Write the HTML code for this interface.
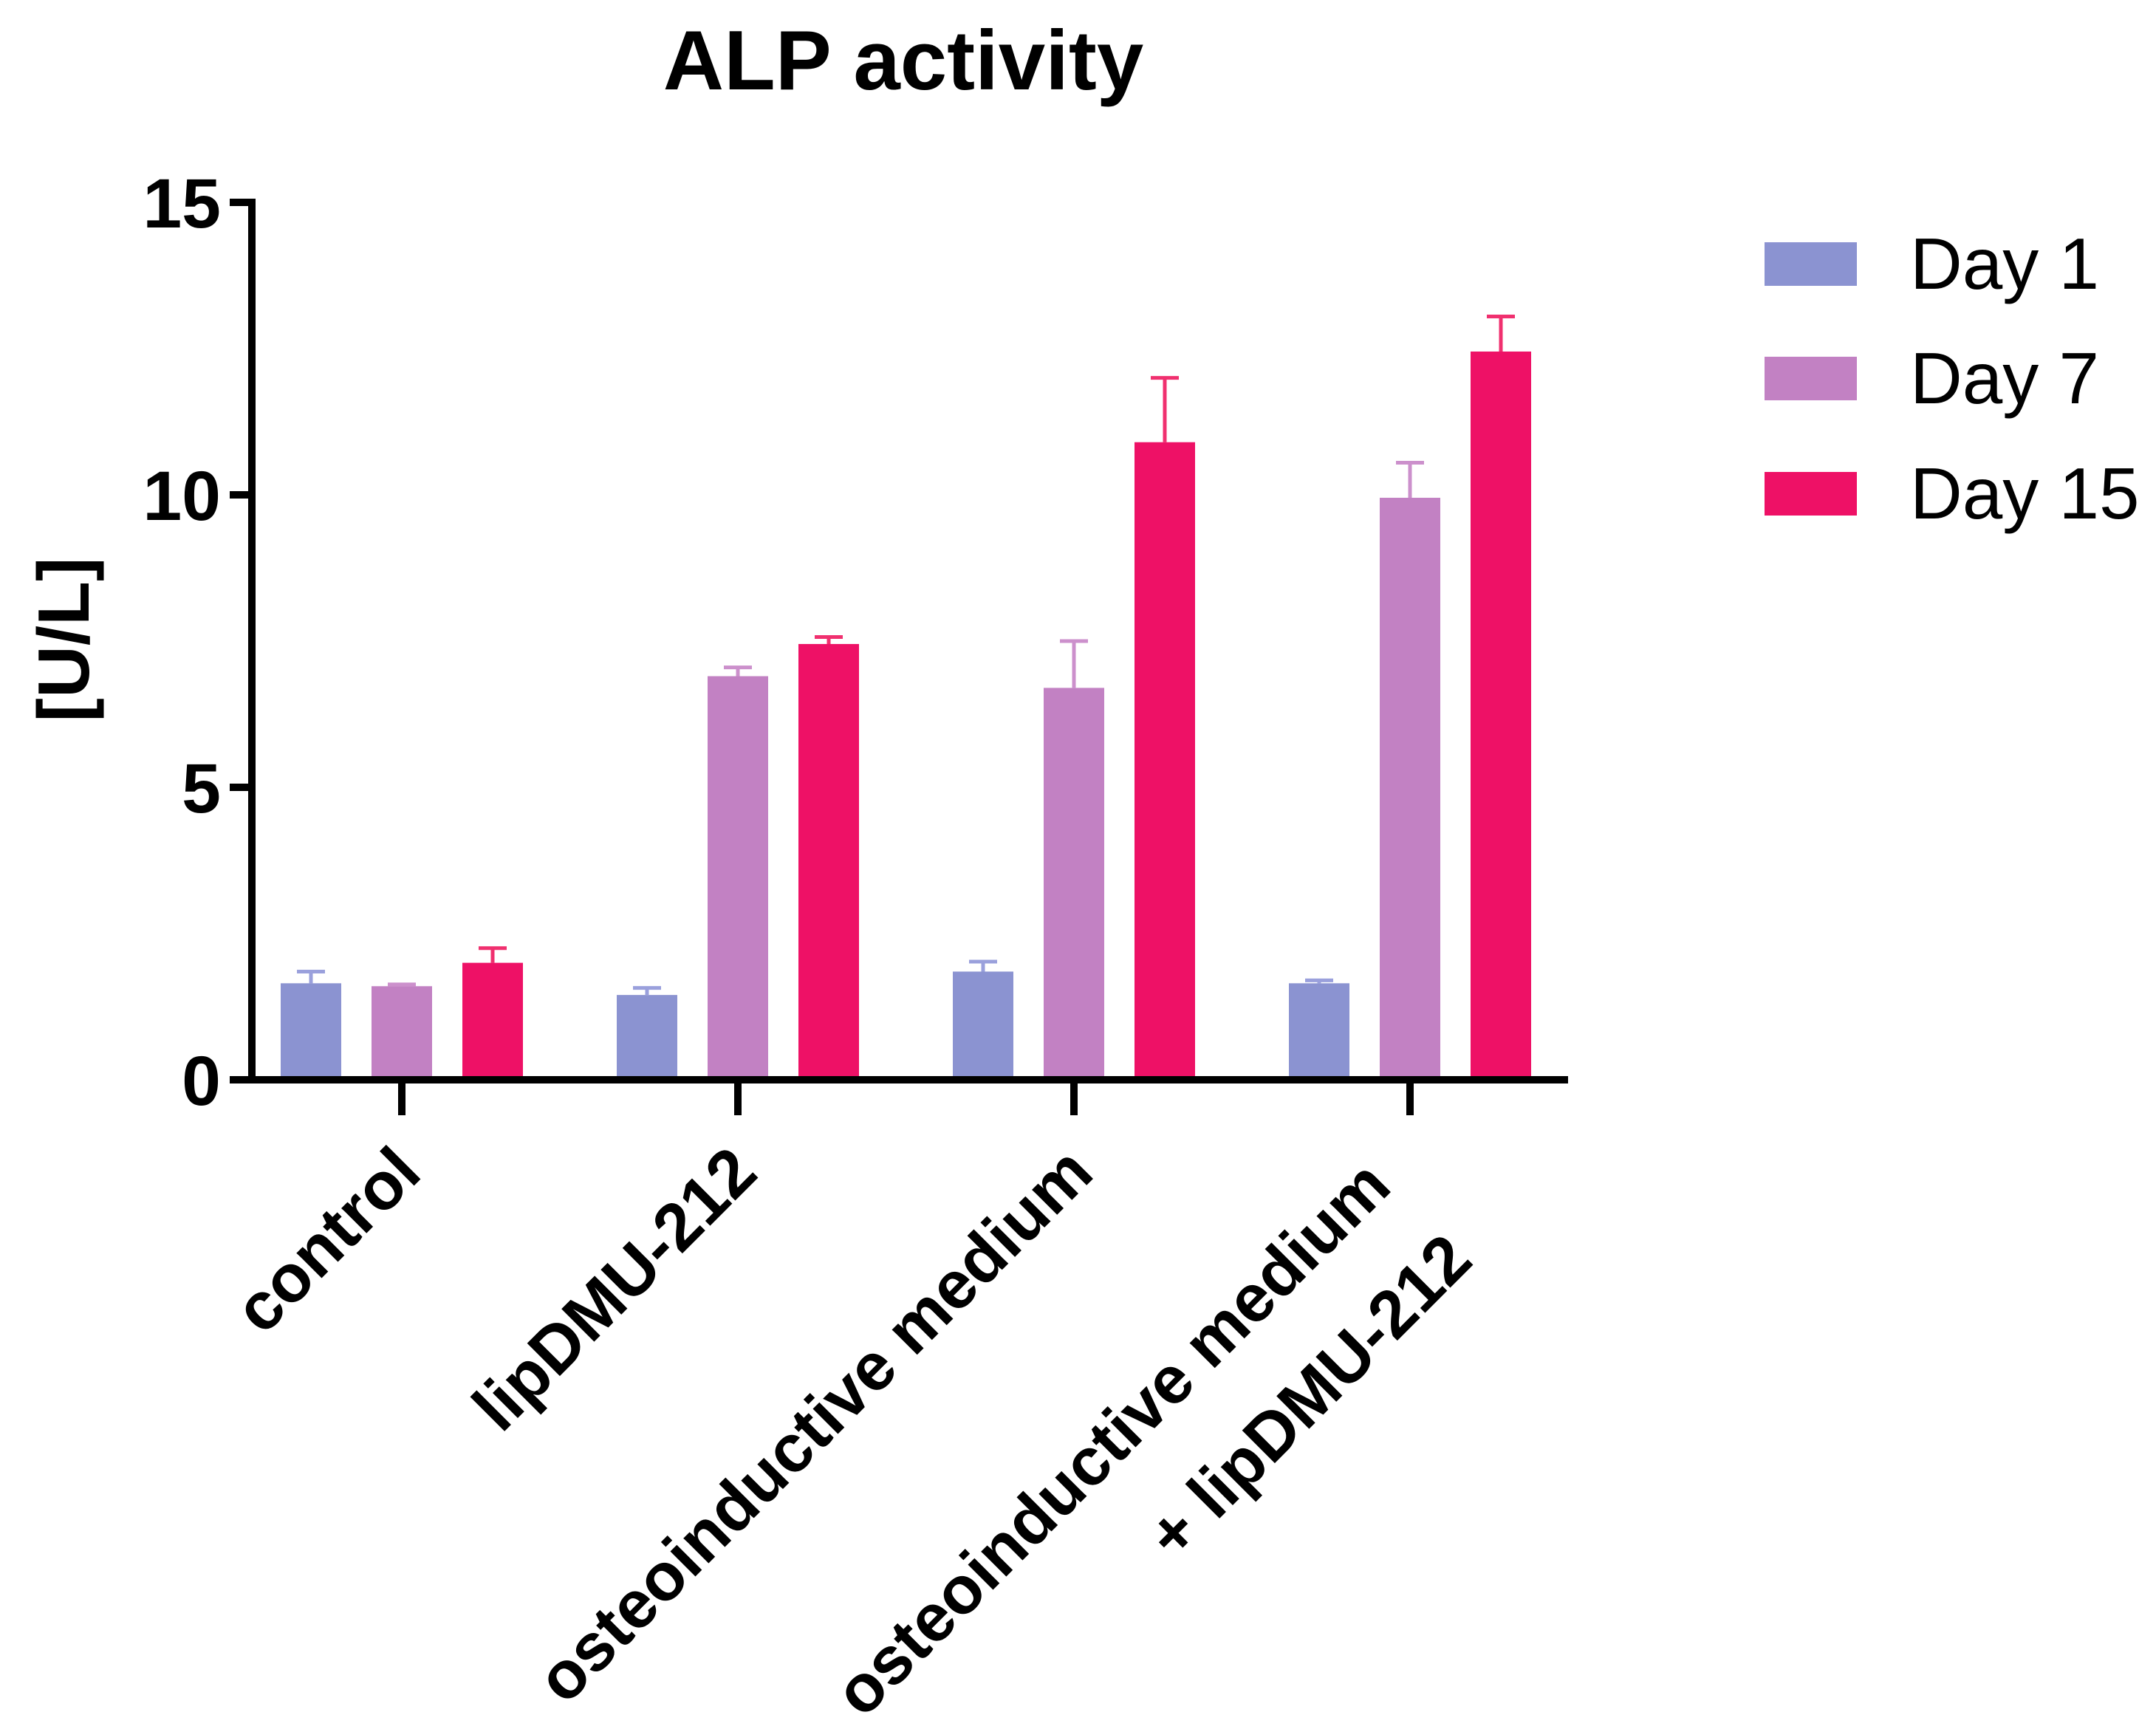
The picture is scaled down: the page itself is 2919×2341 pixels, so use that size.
<!DOCTYPE html>
<html><head><meta charset="utf-8"><style>html,body{margin:0;padding:0;background:#fff}svg{display:block}</style></head>
<body>
<svg id="chart" width="2919" height="2341" viewBox="0 0 2919 2341" xmlns="http://www.w3.org/2000/svg" font-family="Liberation Sans, Arial, sans-serif">
<text x="1223" y="121" font-size="114" font-weight="bold" text-anchor="middle">ALP activity</text>
<text x="0" y="0" font-size="98" font-weight="bold" text-anchor="middle" transform="translate(120,866) rotate(-90)">[U/L]</text>
<g id="bars"></g>
<g id="axes"></g>
<g id="legend"></g>
</svg>
<script>
const categories = ["control","lipDMU-212","osteoinductive medium","osteoinductive medium|+ lipDMU-212"];
const seriesNames = ["Day 1","Day 7","Day 15"];
const day1 = [1.65,1.45,1.85,1.65];
const day7 = [1.6,6.9,6.7,9.95];
const day15 = [2.0,7.45,10.9,12.45];
const err1 = [0.2,0.12,0.17,0.05];
const err7 = [0.03,0.15,0.8,0.6];
const err15 = [0.25,0.12,1.1,0.6];
const yTicks = [0,5,10,15];
const colors = ["#8b93d1","#c281c3","#ee1166"];
const errColors = ["#9aa0dc","#cc90cc","#f0306f"];

const NS="http://www.w3.org/2000/svg";
const X0=341, Y0=1462, Ytop=274, yMax=15;
const y = v => Y0 - (v/yMax)*(Y0-Ytop);
const groupX = i => 544 + i*455;
const barOff = [-123,0,123], BW=82;
function mk(tag, attrs, parent){const e=document.createElementNS(NS,tag);for(const k in attrs)e.setAttribute(k,attrs[k]);parent.appendChild(e);return e;}
const bars=document.getElementById('bars'), axes=document.getElementById('axes'), legend=document.getElementById('legend');
const vals=[day1,day7,day15], errs=[err1,err7,err15];
for(let s=0;s<3;s++){
  for(let i=0;i<categories.length;i++){
    const cx=groupX(i)+barOff[s], v=vals[s][i], e=errs[s][i];
    const r=mk('rect',{x:cx-BW/2,y:y(v),width:BW,height:Y0-y(v),fill:colors[s]},bars);
    
    
    const l=mk('path',{d:`M${cx} ${y(v)} V${y(v+e)} M${cx-19} ${y(v+e)} H${cx+19}`,stroke:errColors[s],'stroke-width':5,fill:'none'},bars);
    
    
  }
}
const ya=mk('line',{x1:X0,y1:Ytop-5,x2:X0,y2:Y0+5,stroke:'#000','stroke-width':10},axes);


const xa=mk('line',{x1:X0-5,y1:Y0,x2:2123,y2:Y0,stroke:'#000','stroke-width':10},axes);


for(const t of yTicks){
  mk('line',{x1:X0-30,y1:y(t),x2:X0,y2:y(t),stroke:'#000','stroke-width':10},axes);
  const tx=mk('text',{x:X0-42,y:y(t)+34,'font-size':95,'font-weight':'bold','text-anchor':'end'},axes);
  tx.textContent=t;
  
  
}
categories.forEach((c,i)=>{
  const gx=groupX(i);
  mk('line',{x1:gx,y1:Y0,x2:gx,y2:Y0+48,stroke:'#000','stroke-width':10},axes);
  const lines=c.split('|');
  const pos = lines.length===1 ? [[gx+30,1592]] : [[gx-22,1610],[gx+88,1710]];
  lines.forEach((ln,j)=>{
    const [px,py]=pos[j];
    const t=mk('text',{x:0,y:0,'font-size':91,'font-weight':'bold','text-anchor':'end',transform:`translate(${px},${py}) rotate(-45)`},axes);
    t.textContent=ln;
    
    
  });
});
const legY=[357,512,668];
seriesNames.forEach((n,s)=>{
  const r=mk('rect',{x:2389,y:legY[s]-29,width:125,height:59,fill:colors[s]},legend);
  
  
  const t=mk('text',{x:2586,y:legY[s]+34,'font-size':98},legend);
  t.textContent=n;
  
  
});
</script>
</body></html>
